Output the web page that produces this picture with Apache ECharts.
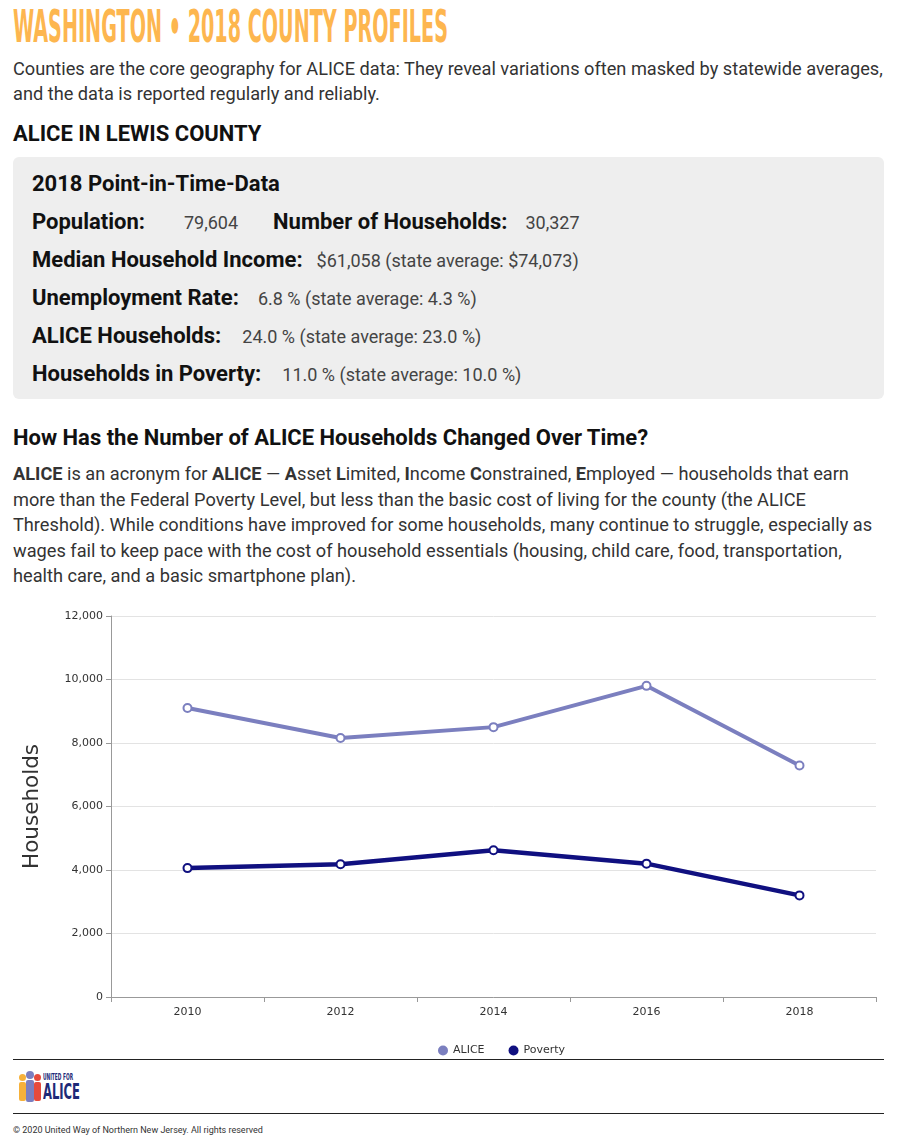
<!DOCTYPE html>
<html>
<head>
<meta charset="utf-8">
<script src="https://cdn.jsdelivr.net/npm/echarts@6/dist/echarts.min.js"></script>
<style>
  html, body { margin:0; padding:0; background:#fff; }
  body { width:900px; height:1142px; position:relative; overflow:hidden; font-family: Roboto, "Noto Sans", sans-serif; color:#333; }
  .abs { position:absolute; }
  #title { left:13px; top:2px; font-family:"DejaVu Sans Condensed","Liberation Sans Narrow","DejaVu Sans",sans-serif; font-weight:bold; font-size:44px; color:#fdb64f; white-space:nowrap; transform-origin:0 0; line-height:50px; }
  .para { font-size:18.2px; line-height:25px; color:#333; white-space:nowrap; }
  h2 { margin:0; font-size:22px; font-weight:bold; color:#111; }
  #box { left:13px; top:157px; width:871px; height:242px; background:#eeeeee; border-radius:6px; }
  .row { position:absolute; left:19px; white-space:nowrap; color:#111; }
  .lab { font-size:22px; font-weight:bold; color:#111; }
  .val { font-size:18px; color:#444; }
  #chart { left:0; top:600px; width:900px; height:460px; }
  .rule { left:13px; width:871px; height:0; border-top:1.5px solid #222; }
  .sx { display:inline-block; transform-origin:0 0; white-space:nowrap; }
</style>
</head>
<body>
<div id="title" class="abs">WASHINGTON • 2018 COUNTY PROFILES</div>
<div class="abs para" style="left:13px;top:56px;">Counties are the core geography for ALICE data: They reveal variations often masked by statewide averages,<br>and the data is reported regularly and reliably.</div>
<h2 class="abs" style="left:13px;top:121px;">ALICE IN LEWIS COUNTY</h2>
<div id="box" class="abs">
  <div class="row lab" style="top:14px;">2018 Point-in-Time-Data</div>
  <div class="row" style="top:52px;"><span class="lab">Population:</span><span class="val" style="margin-left:39px;">79,604</span><span class="lab" style="margin-left:35px;">Number of Households:</span><span class="val" style="margin-left:18px;">30,327</span></div>
  <div class="row" style="top:90px;"><span class="lab">Median Household Income:</span><span class="val" style="margin-left:14px;">$61,058 (state average: $74,073)</span></div>
  <div class="row" style="top:128px;"><span class="lab">Unemployment Rate:</span><span class="val" style="margin-left:19px;">6.8 % (state average: 4.3 %)</span></div>
  <div class="row" style="top:166px;"><span class="lab">ALICE Households:</span><span class="val" style="margin-left:21px;">24.0 % (state average: 23.0 %)</span></div>
  <div class="row" style="top:204px;"><span class="lab">Households in Poverty:</span><span class="val" style="margin-left:21px;">11.0 % (state average: 10.0 %)</span></div>
</div>
<h2 class="abs" style="left:13px;top:425px;">How Has the Number of ALICE Households Changed Over Time?</h2>
<div class="abs para" style="left:13px;top:461px;line-height:25.5px;"><b>ALICE</b> is an acronym for <b>ALICE</b> — <b>A</b>sset <b>L</b>imited, <b>I</b>ncome <b>C</b>onstrained, <b>E</b>mployed — households that earn<br>more than the Federal Poverty Level, but less than the basic cost of living for the county (the ALICE<br>Threshold). While conditions have improved for some households, many continue to struggle, especially as<br>wages fail to keep pace with the cost of household essentials (housing, child care, food, transportation,<br>health care, and a basic smartphone plan).</div>
<div id="chart" class="abs"></div>
<div class="abs rule" style="top:1059px;"></div>
<div class="abs" style="left:19px;top:1071px;width:70px;height:34px;">
  <div class="abs" style="left:0;top:3px;width:7px;height:7px;border-radius:4px;background:#f6b13a;"></div>
  <div class="abs" style="left:0;top:11px;width:7px;height:19px;border-radius:2px;background:#f6b13a;"></div>
  <div class="abs" style="left:7px;top:0px;width:8px;height:8px;border-radius:4px;background:#7b7fc0;"></div>
  <div class="abs" style="left:7px;top:9px;width:8px;height:22px;border-radius:2px;background:#7b7fc0;"></div>
  <div class="abs" style="left:15px;top:3px;width:7px;height:7px;border-radius:4px;background:#e64a3c;"></div>
  <div class="abs" style="left:15px;top:11px;width:7px;height:19px;border-radius:2px;background:#e64a3c;"></div>
  <div id="logoTop" class="abs sx" style="left:24px;top:2px;font-family:'DejaVu Sans Condensed',sans-serif;font-weight:bold;font-size:8px;color:#1e2a78;line-height:9px;">UNITED FOR</div>
  <div id="logoMain" class="abs sx" style="left:24px;top:9px;font-family:'DejaVu Sans Condensed',sans-serif;font-weight:bold;font-size:22px;color:#1e2a78;line-height:24px;">ALICE</div>
</div>
<div class="abs rule" style="top:1113px;"></div>
<div class="abs" style="left:13px;top:1125px;font-family:Roboto,sans-serif;font-size:9px;color:#333;">© 2020 United Way of Northern New Jersey. All rights reserved</div>

<script>
  function fitWidth(id, target) {
    var el = document.getElementById(id);
    var w = el.getBoundingClientRect().width;
    el.style.transform = 'scaleX(' + (target / w) + ')';
  }
  fitWidth('title', 435);
  fitWidth('logoTop', 30);
  fitWidth('logoMain', 37);

  var years = ['2010', '2012', '2014', '2016', '2018'];
  var aliceValues = [9100, 8160, 8500, 9800, 7290];
  var povertyValues = [4060, 4180, 4620, 4200, 3200];
  var yTicks = [0, 2000, 4000, 6000, 8000, 10000, 12000];

  var chart = echarts.init(document.getElementById('chart'), null, {renderer: 'canvas'});
  var fontFam = '"DejaVu Sans", Verdana, sans-serif';
  chart.setOption({
    animation: false,
    textStyle: { fontFamily: fontFam },
    grid: { left: 111, right: 24, top: 16, bottom: 63, containLabel: false },
    legend: {
      top: 440, left: 433,
      itemWidth: 10, itemHeight: 10, itemGap: 24,
      icon: 'circle',
      textStyle: { fontSize: 11, color: '#333', fontFamily: fontFam },
      data: [
        { name: 'ALICE', itemStyle: { color: '#7b7fbf', borderWidth: 0 } },
        { name: 'Poverty', itemStyle: { color: '#101080', borderWidth: 0 } }
      ]
    },
    xAxis: {
      type: 'category',
      data: years,
      boundaryGap: true,
      axisLine: { lineStyle: { color: '#999', width: 1 } },
      axisTick: { show: true, length: 5, lineStyle: { color: '#999' } },
      axisLabel: { fontSize: 11, color: '#333', margin: 10, fontFamily: fontFam }
    },
    yAxis: {
      type: 'value',
      min: yTicks[0], max: yTicks[yTicks.length - 1], interval: 2000,
      name: 'Households',
      nameLocation: 'middle',
      nameGap: 68,
      nameRotate: 90,
      nameTextStyle: { fontSize: 21.5, color: '#333', fontFamily: fontFam },
      axisLine: { show: true, lineStyle: { color: '#999', width: 1 } },
      axisTick: { show: true, length: 5, lineStyle: { color: '#999' } },
      axisLabel: {
        fontSize: 11, color: '#333', margin: 8, fontFamily: fontFam,
        formatter: function (v) { return v.toLocaleString('en-US'); }
      },
      splitLine: { show: true, lineStyle: { color: '#e3e3e3', width: 1 } }
    },
    series: [
      {
        name: 'ALICE', type: 'line', data: aliceValues,
        symbol: 'circle', symbolSize: 8, showAllSymbol: true,
        lineStyle: { color: '#7b7fbf', width: 4 },
        itemStyle: { color: '#ffffff', borderColor: '#7b7fbf', borderWidth: 2 },
        z: 2
      },
      {
        name: 'Poverty', type: 'line', data: povertyValues,
        symbol: 'circle', symbolSize: 8, showAllSymbol: true,
        lineStyle: { color: '#101080', width: 4.5 },
        itemStyle: { color: '#ffffff', borderColor: '#101080', borderWidth: 2 },
        z: 3
      }
    ]
  });
</script>
</body>
</html>
